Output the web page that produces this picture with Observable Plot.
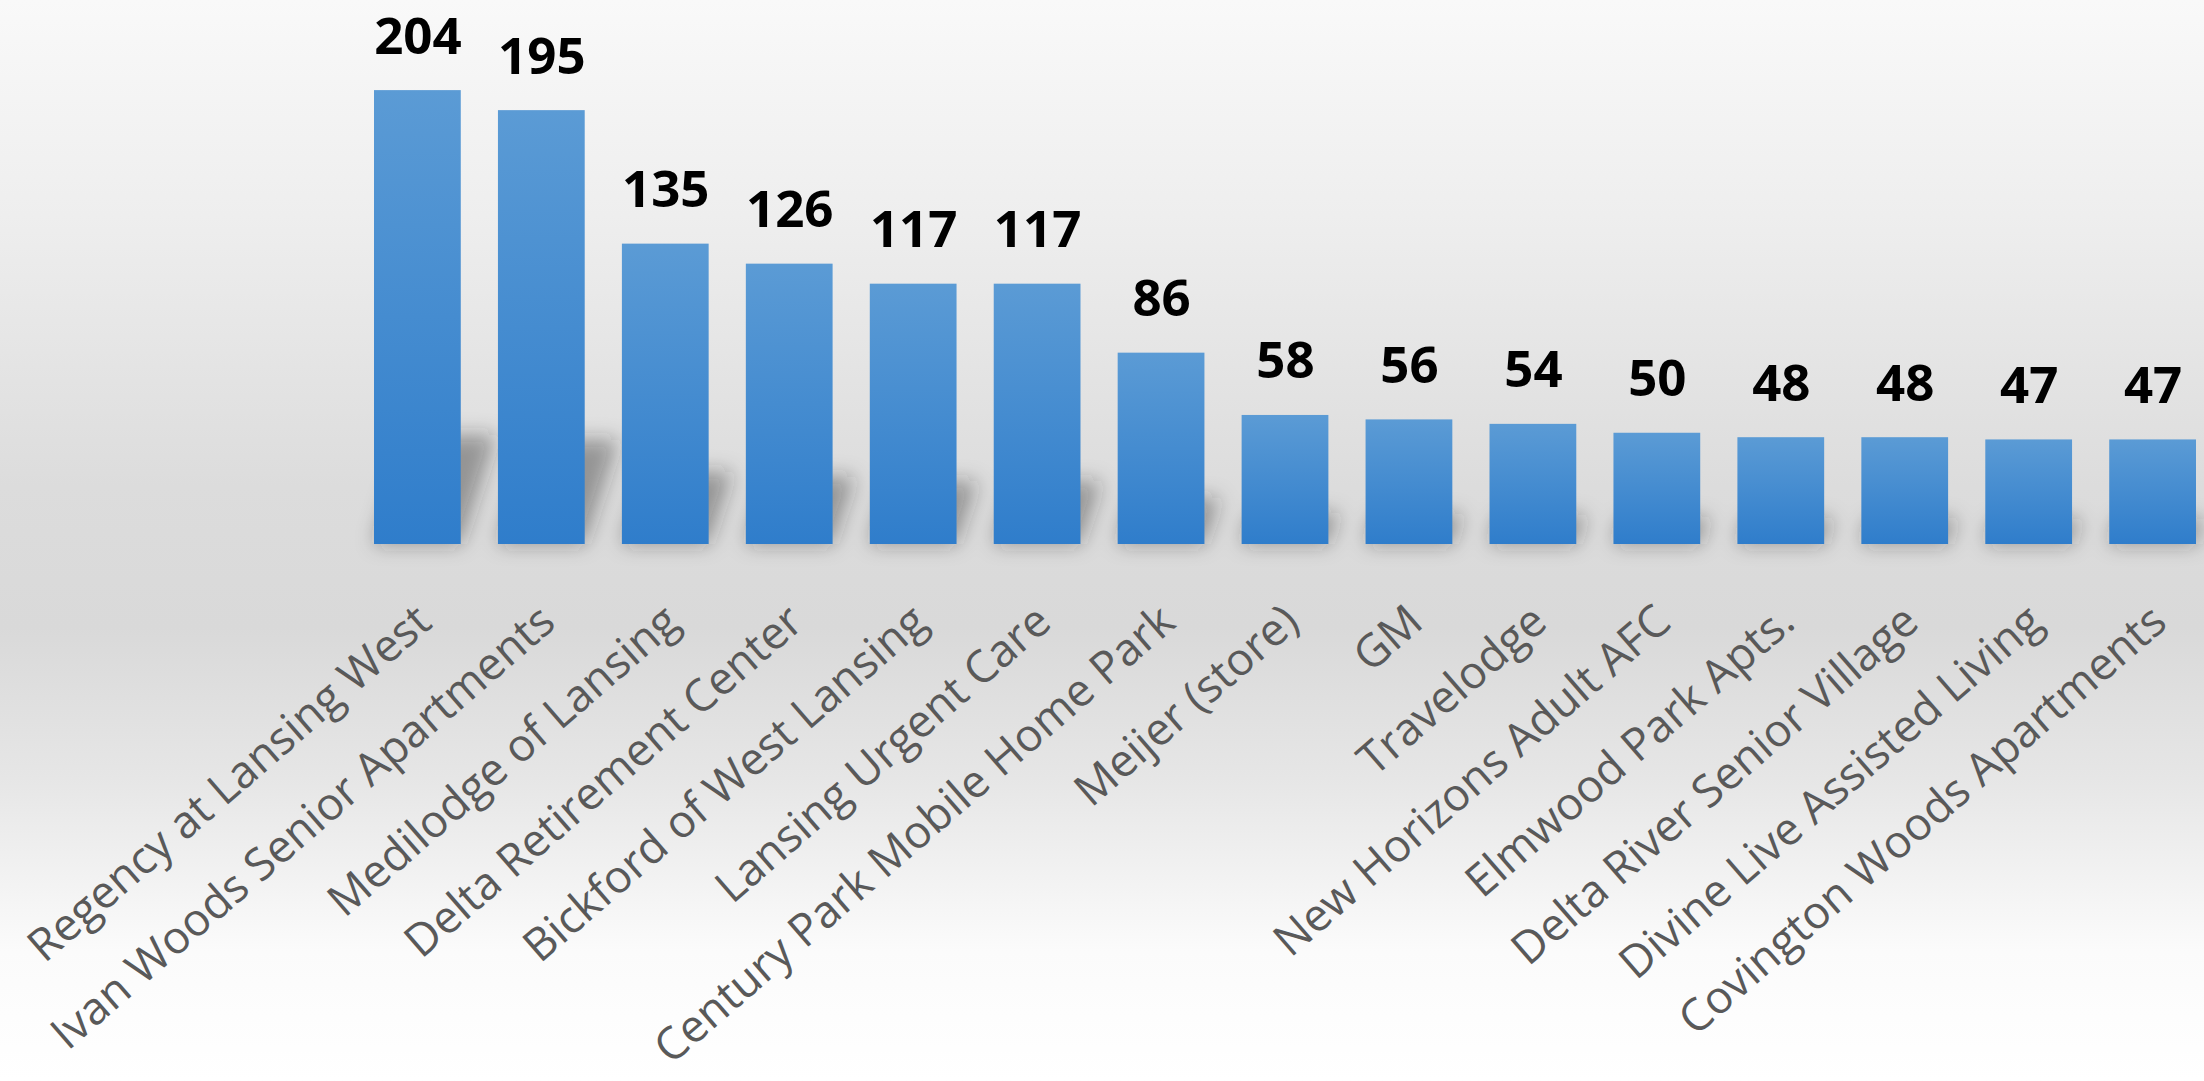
<!DOCTYPE html>
<html>
<head>
<meta charset="utf-8">
<script src="https://cdn.jsdelivr.net/npm/d3@7"></script>
<script src="https://cdn.jsdelivr.net/npm/@observablehq/plot@0.6"></script>
<style>
  html, body { margin: 0; padding: 0; background: #ffffff; }
  #chart { width: 2204px; height: 1081px; overflow: hidden; }
</style>
</head>
<body>
<div id="chart"></div>
<script>
const categories = [
  "Regency at Lansing West",
  "Ivan Woods Senior Apartments",
  "Medilodge of Lansing",
  "Delta Retirement Center",
  "Bickford of West Lansing",
  "Lansing Urgent Care",
  "Century Park Mobile Home Park",
  "Meijer (store)",
  "GM",
  "Travelodge",
  "New Horizons Adult AFC",
  "Elmwood Park Apts.",
  "Delta River Senior Village",
  "Divine Live Assisted Living",
  "Covington Woods Apartments"
];
const counts = [204, 195, 135, 126, 117, 117, 86, 58, 56, 54, 50, 48, 48, 47, 47];

const data = categories.map((name, i) => ({name, count: counts[i]}));

const plot = Plot.plot({
  width: 2204,
  height: 1081,
  marginLeft: 374,
  marginRight: 8,
  marginTop: 0,
  marginBottom: 537,
  style: {
    background: "linear-gradient(to bottom, #f9f9f9 0%, #eeeeee 20%, #dcdcdc 45%, #d9d9d9 58%, #e6e6e6 72%, #fbfbfb 88%, #ffffff 100%)",
    fontFamily: "'Open Sans', sans-serif",
    overflow: "visible"
  },
  x: {domain: categories, paddingInner: 0.3, paddingOuter: 0, round: false, label: null, axis: null},
  y: {domain: [0, 244.5], axis: null},
  marks: [
    Plot.barY(data, {x: "name", y: "count", fill: "#222222", fillOpacity: 0.4}),
    Plot.barY(data, {x: "name", y: "count", fill: "url(#barGrad)"}),
    Plot.text(data, {
      x: "name", y: "count", text: d => String(d.count),
      dy: -37, lineAnchor: "bottom",
      fontSize: 51, fontWeight: 700, fill: "#000000"
    }),
    Plot.text(data, {
      x: "name", frameAnchor: "bottom", text: "name",
      rotate: -41, textAnchor: "end", lineAnchor: "top",
      dx: -5, dy: 57,
      fontSize: 45, fill: "#595959"
    })
  ]
});

// gradient + blur defs
const svg = d3.select(plot);
const defs = svg.insert("defs", ":first-child");
const g = defs.append("linearGradient").attr("id", "barGrad").attr("x1", 0).attr("y1", 0).attr("x2", 0).attr("y2", 1);
g.append("stop").attr("offset", "0%").attr("stop-color", "#5b9bd5");
g.append("stop").attr("offset", "100%").attr("stop-color", "#2f7dcb");
const f = defs.append("filter").attr("id", "shadowBlur")
  .attr("filterUnits", "userSpaceOnUse")
  .attr("x", 0).attr("y", 0).attr("width", 2204).attr("height", 1081);
f.append("feGaussianBlur").attr("stdDeviation", 10);

// perspective shadow: first bar layer flattened and skewed toward upper-right, blurred in screen space
const base = plot.scale("y").apply(0);
const shadowGroup = svg.selectAll('g[aria-label="bar"]').nodes()[0];
const wrapper = document.createElementNS("http://www.w3.org/2000/svg", "g");
wrapper.setAttribute("filter", "url(#shadowBlur)");
shadowGroup.parentNode.insertBefore(wrapper, shadowGroup);
wrapper.appendChild(shadowGroup);
d3.select(shadowGroup)
  .attr("transform", `translate(0,${base}) skewX(-18) scale(1,0.24) translate(0,${-base})`);

document.getElementById("chart").appendChild(plot);
</script>
</body>
</html>
